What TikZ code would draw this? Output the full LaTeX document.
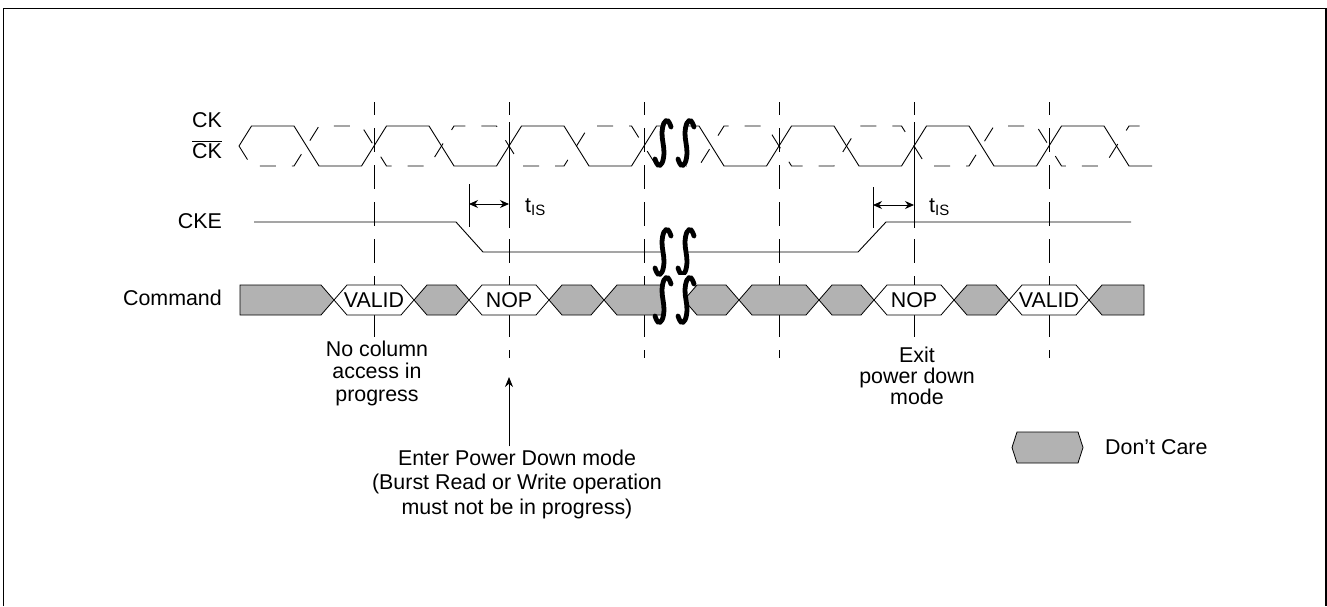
\documentclass[tikz,border=0pt]{standalone}
\usepackage{fontspec}
\setmainfont{Liberation Sans}
\usetikzlibrary{arrows.meta}

\tikzset{
	frame/.style={line width=1.6pt},
	sig/.style={line width=0.9pt},
	sigbar/.style={line width=0.9pt, dash pattern=on 16pt off 16pt},
	refline/.style={line width=0.9pt, dash pattern=on 24pt off 13pt, dash phase=11pt},
	dcgrey/.style={fill=gray!60, draw=black, line width=0.8pt},
	busval/.style={fill=white, draw=black, line width=0.8pt},
	breakmark/.style={line width=4.8pt, line cap=round},
	tisarrow/.style={line width=0.9pt, {Stealth[length=9pt,width=8pt]}-{Stealth[length=9pt,width=8pt]}},
	uparrow/.style={line width=0.9pt, -{Stealth[length=10pt,width=8pt]}},
	lbl/.style={font=\fontsize{21.4}{24}\selectfont, inner sep=0pt},
}

\begin{document}
\begin{tikzpicture}[x=1pt,y=-1pt]
			\useasboundingbox (0,0) rectangle (1327,606);
			\draw[frame] (3.3,606) -- (3.3,8.3) -- (1325.7,8.3) -- (1325.7,606);
			% reference lines
			\foreach \x/\e in {374/337,509/358,644/358,779/358,914/337,1049/358}
				\draw[refline] (\x,102) -- (\x,\e);
			\draw[sig] (509,122) -- (509,228);
			\draw[sig] (914,122) -- (914,228);
			% clock pair
			\draw[sig] (239,146) -- (251.5,126)
				\foreach \k in {0,...,5} { -- ({294+135*\k},126) -- ({319+135*\k},166) -- ({361.5+135*\k},166) -- ({386.5+135*\k},126) }
				-- (1104,126) -- (1129,166) -- (1152,166);
			\draw[sigbar] (239,146) -- (251.5,166)
				\foreach \k in {0,...,5} { -- ({294+135*\k},166) -- ({319+135*\k},126) -- ({361.5+135*\k},126) -- ({386.5+135*\k},166) }
				-- (1104,166) -- (1129,126) -- (1152,126);
			% CKE
			\draw[sig] (254,222) -- (456,222) -- (483,252) -- (858,252) -- (886,222) -- (1131,222);
			\coordinate (tisA) at (469,204);
			\coordinate (tisB) at (509,204);
			\coordinate (tisC) at (873,205);
			\coordinate (tisD) at (914,205);
			\draw[sig] (469,184) -- (469,227);
			\draw[sig] (873,187) -- (873,228);
			\draw[tisarrow] (tisA) -- (tisB);
			\draw[tisarrow] (tisC) -- (tisD);
			\node[lbl, anchor=west] (tis1) at (525,207) {t\textsubscript{IS}};
			\node[lbl, anchor=west] (tis2) at (929,207) {t\textsubscript{IS}};
			% command bus
			\draw[dcgrey] (240,285) -- (321,285) -- (334,300) -- (321,315) -- (240,315) -- cycle;
			\foreach \a/\b/\st in {334/414/busval, 414/469/dcgrey, 469/549/busval, 549/604/dcgrey, 604/684/dcgrey, 684/739/dcgrey, 739/819/dcgrey, 819/874/dcgrey, 874/954/busval, 954/1009/dcgrey, 1009/1089/busval}
				\draw[\st] (\a,300) -- (\a+13,285) -- (\b-13,285) -- (\b,300) -- (\b-13,315) -- (\a+13,315) -- cycle;
			\draw[dcgrey] (1089,300) -- (1102,285) -- (1144,285) -- (1144,315) -- (1102,315) -- cycle;
			\node[lbl] (valid1) at (374,300) {VALID};
			\node[lbl] (nop1) at (509,300) {NOP};
			\node[lbl] (nop2) at (914,300) {NOP};
			\node[lbl] (valid2) at (1049,300) {VALID};
			% breaks
			\foreach \y in {143,252,300} {
				\fill[white] (663,\y-25) rectangle (686,\y+25);
				\foreach \x in {663,686}
					\draw[breakmark] plot[smooth, tension=0.7] coordinates {(\x+8,\y-16) (\x+5,\y-22) (\x+1,\y-20) (\x-1,\y-10) (\x,\y) (\x+1,\y+10) (\x-1,\y+20) (\x-5,\y+22) (\x-8,\y+16)};
			}
			% signal names
			\node[lbl, anchor=base east] (ck) at (222,127) {CK};
			\node[lbl, anchor=base east] (ckbar) at (222,158) {$\overline{\mbox{CK}}$};
			\node[lbl, anchor=base east] (cke) at (222,228) {CKE};
			\node[lbl, anchor=base east] (cmd) at (222,305) {Command};
			% notes
			\node[lbl, align=center, font=\fontsize{21.4}{22.5}\selectfont] (nocol) at (377,373) {No column\\access in\\progress};
			\node[lbl, align=center, font=\fontsize{21.4}{24.5}\selectfont] (enter) at (517,484) {Enter Power Down mode\\(Burst Read or Write operation\\must not be in progress)};
			\coordinate (entertip) at (509,377);
			\draw[uparrow] (enter.north -| entertip) ++(0,-3) -- (entertip);
			\node[lbl, align=center, font=\fontsize{21.4}{21}\selectfont] (exit) at (917,376) {Exit\\power down\\mode};
			% legend
			\draw[dcgrey] (1012,447.5) -- (1017,432) -- (1078,432) -- (1083,447.5) -- (1078,463) -- (1017,463) -- cycle;
			\node[lbl, anchor=west] (dclbl) at (1105,447) {Don’t Care};
		\end{tikzpicture}
\end{document}
